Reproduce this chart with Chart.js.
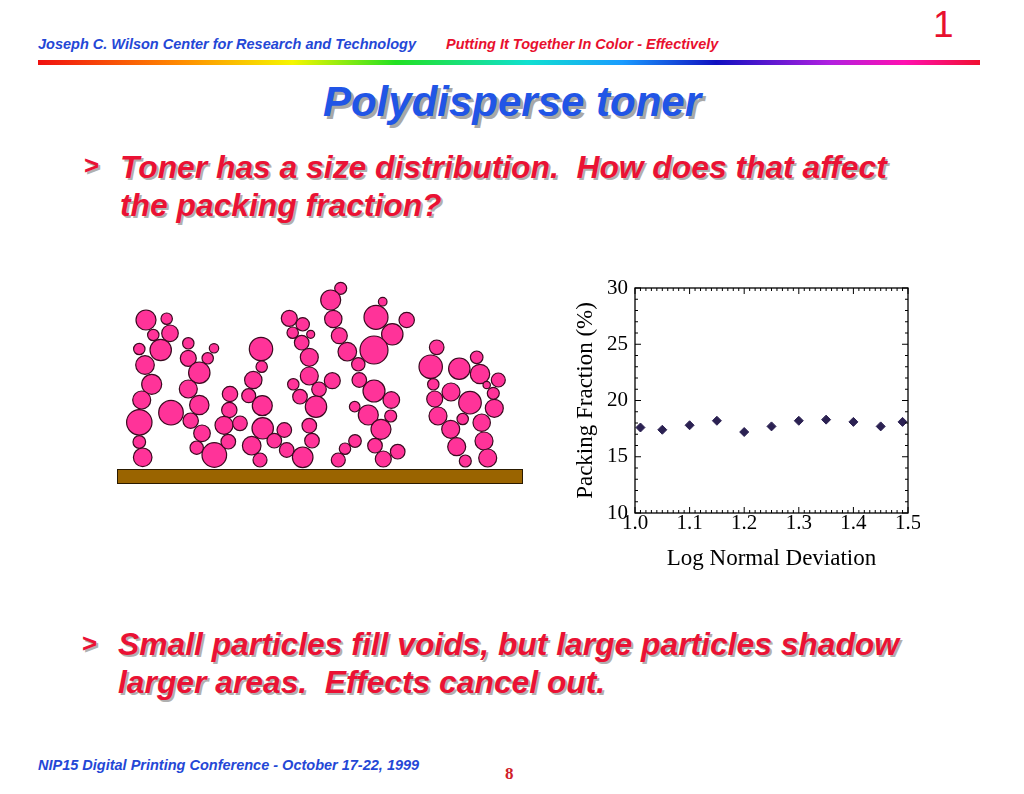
<!DOCTYPE html>
<html>
<head>
<meta charset="utf-8">
<script src="https://cdn.jsdelivr.net/npm/chart.js@4.4.1/dist/chart.umd.min.js"></script>
<style>
  html, body { margin: 0; padding: 0; background: #fff; }
  #slide { position: relative; width: 1024px; height: 794px; overflow: hidden; font-family: "Liberation Sans", Arial, sans-serif; }
  .abs { position: absolute; white-space: pre; }
  .hdr { font-size: 14.5px; font-weight: bold; font-style: italic; }
  .blue { color: #2447d6; }
  .red { color: #e8102e; }
  #rainbow { position: absolute; left: 38px; top: 60px; width: 942px; height: 5px;
    background: linear-gradient(to right, #f01010, #ff8a00 15%, #f6f600 27%, #22e022 38%, #10e0d0 52%, #1a9cff 62%, #1010c0 72%, #b020e0 84%, #ff10b0 92%, #f01030); }
  #title { left: 0; width: 1024px; top: 78px; text-align: center; font-size: 42px; font-weight: bold; font-style: italic; color: #2155e6; text-shadow: 3px 3px 0 #a8a8a8; }
  .bullet { font-size: 31.8px; line-height: 38px; font-weight: bold; font-style: italic; color: #ea1234; text-shadow: 2px 2px 0 #b0b0b0; }
  .arrow { font-size: 26px; font-weight: bold; color: #ea1234; text-shadow: 2px 2px 0 #b0b0b0; }
  #substrate { position: absolute; left: 117px; top: 469px; width: 404px; height: 13px; background: #9a6400; border: 1px solid #2a1a00; }
  #particles { position: absolute; left: 100px; top: 270px; width: 440px; height: 220px; }
  #plot { position: absolute; left: 560px; top: 278px; width: 360px; height: 300px; }
</style>
</head>
<body>
<div id="slide">
  <div class="abs hdr blue" style="left:38px; top:36px;">Joseph C. Wilson Center for Research and Technology</div>
  <div class="abs hdr red" style="left:446px; top:36px;">Putting It Together In Color - Effectively</div>
  <div class="abs red" style="left:933px; top:4px; font-size:37px;">1</div>
  <div id="rainbow"></div>

  <div id="title" class="abs">Polydisperse toner</div>

  <div class="abs arrow" style="left:84px; top:150px;">&gt;</div>
  <div class="abs bullet" style="left:120px; top:148px;">Toner has a size distribution.  How does that affect
the packing fraction?</div>

  <div id="substrate"></div>
  <div id="particles"><canvas id="particleChart"></canvas></div>
  <div id="plot"><canvas id="packingChart"></canvas></div>

  <div class="abs arrow" style="left:82px; top:628px;">&gt;</div>
  <div class="abs bullet" style="left:118px; top:625px;">Small particles fill voids, but large particles shadow
larger areas.  Effects cancel out.</div>

  <div class="abs hdr blue" style="left:38px; top:757px;">NIP15 Digital Printing Conference - October 17-22, 1999</div>
  <div class="abs red" style="left:505px; top:764px; font-family:'Liberation Serif', serif; font-weight:bold; font-size:17px; color:#d0202a;">8</div>
</div>

<script>
// packing fraction vs log normal deviation
const deviation = [1.01, 1.05, 1.10, 1.15, 1.20, 1.25, 1.30, 1.35, 1.40, 1.45, 1.49];
const packing = [17.6, 17.4, 17.8, 18.2, 17.2, 17.7, 18.2, 18.3, 18.1, 17.7, 18.1];
const xTickLabels = ['1.0', '1.1', '1.2', '1.3', '1.4', '1.5'];
const yTickLabels = ['10', '15', '20', '25', '30'];

// toner particles sketch (x, y, radius)
const particleX = [
    46, 66.7, 70, 53.3, 39.3, 60.7, 45, 51.7, 41.7, 39.3, 39.3, 42.7,
    88.3, 114, 88.3, 107.7, 99.3, 88.3, 71, 99.3, 90.7, 102, 96.7, 114.3, 130, 129.3, 124, 140, 128.3,
    161, 161.7, 153.3, 148.7, 162.3, 162.7, 151.7, 160, 174.3, 184.3, 186.7, 202.7,
    189.3, 202.7, 192.7, 210.7, 201.7, 209.3, 209.3, 232.3, 193.3, 200, 219, 216, 209.3, 212,
    240.7, 230.7, 233.3, 239.3, 247.3, 258.3, 259.3, 274, 291.3, 290.7, 268.3, 254.7, 281, 275, 283.3, 297.7, 255, 245, 238.3,
    282.7, 276, 306.7, 292.3, 274,
    336.7, 330.7, 333.3, 334.7, 351, 338, 350.7, 356.7, 365.3, 359.3, 376.7, 380, 398.3, 386.7, 393.3, 370, 394.3, 362.7, 381.7, 384, 387.7
];
const particleY = [
    50, 48.7, 63.3, 65, 79, 80, 95, 114.3, 130, 152.3, 172, 187.3,
    73.3, 78.3, 88.3, 88.3, 102.7, 119, 142.7, 135, 150.7, 163.3, 177.7, 185, 124, 140, 155.3, 153.3, 171.7,
    79, 96.7, 110, 125.7, 135.7, 158.3, 175.7, 190, 170.7, 160, 180, 187.3,
    48.3, 54.3, 62.7, 64.3, 72.7, 87.3, 106, 110.7, 114.3, 126.7, 119.3, 136.7, 155.7, 170.7,
    18.3, 30, 49, 65.7, 81.7, 94.3, 110, 121, 130, 146, 145, 136.7, 159.3, 175.7, 189, 181.7, 171, 178.7, 190,
    31.7, 47.3, 50, 64.3, 80,
    77.3, 96.7, 114.3, 129, 122, 146, 159.3, 176.7, 191, 98.7, 87.3, 104, 110, 115, 123.3, 132.7, 138.3, 149, 152.7, 171, 188
];
const particleR = [
    10, 5.7, 8.3, 5.7, 5.7, 10.7, 9.3, 10, 9, 12.7, 6.3, 9.3,
    5.7, 4.7, 8, 5.7, 10.7, 9, 12.3, 9.7, 7.7, 8.3, 6.7, 12.3, 7.7, 7.7, 9, 7.3, 7.3,
    11.7, 5.7, 8.7, 7, 10, 10.7, 9.3, 7, 7.3, 7.3, 7.3, 10.3,
    8, 6.7, 5.7, 4, 7.3, 9, 9, 8, 5.7, 7.3, 7.3, 10.7, 7.3, 7.3,
    6, 10, 8.7, 8, 9.3, 6.7, 7.3, 11, 8.3, 6, 10, 5.3, 10, 7.3, 8, 7.3, 6.3, 5.7, 7,
    4.3, 12, 7.7, 10.7, 14,
    7.3, 11.7, 5.7, 8, 9, 9, 9, 9, 6, 10.7, 6.3, 9.7, 7, 3.7, 6, 11.3, 9, 5.7, 8.7, 9, 9
];

new Chart(document.getElementById('particleChart'), {
    type: 'bubble',
    data: {
        datasets: [{
            data: particleX.map((x, i) => ({ x: x, y: particleY[i], r: particleR[i] })),
            backgroundColor: '#ff3399',
            borderColor: '#3a0a20',
            borderWidth: 1.2,
            clip: false
        }]
    },
    options: {
        responsive: true,
        maintainAspectRatio: false,
        animation: false,
        layout: { padding: 0, autoPadding: false },
        plugins: { legend: { display: false }, tooltip: { enabled: false } },
        scales: {
            x: { type: 'linear', min: 0, max: 440, display: false },
            y: { type: 'linear', min: 0, max: 220, reverse: true, display: false }
        }
    }
});

// frame with inward ticks on all four sides
const frameTicks = {
    id: 'frameTicks',
    afterDraw(chart) {
        const { ctx, chartArea: a, scales } = chart;
        ctx.save();
        ctx.strokeStyle = '#000';
        ctx.lineWidth = 1.3;
        ctx.strokeRect(a.left, a.top, a.right - a.left, a.bottom - a.top);
        ctx.lineWidth = 1;
        ctx.beginPath();
        for (let i = 0; i <= 50; i++) {
            const px = scales.x.getPixelForValue(1 + i / 100);
            const len = i % 10 === 0 ? 6 : 3;
            ctx.moveTo(px, a.bottom); ctx.lineTo(px, a.bottom - len);
            ctx.moveTo(px, a.top); ctx.lineTo(px, a.top + len);
        }
        for (let v = 10; v <= 30; v++) {
            const py = scales.y.getPixelForValue(v);
            const len = v % 5 === 0 ? 6 : 3;
            ctx.moveTo(a.left, py); ctx.lineTo(a.left + len, py);
            ctx.moveTo(a.right, py); ctx.lineTo(a.right - len, py);
        }
        ctx.stroke();
        ctx.restore();
    }
};

const serif = "'Liberation Serif', 'Times New Roman', serif";

new Chart(document.getElementById('packingChart'), {
    type: 'scatter',
    data: {
        datasets: [{
            data: deviation.map((d, i) => ({ x: d, y: packing[i] })),
            pointStyle: 'rectRot',
            pointRadius: 4.5,
            backgroundColor: '#2b2152',
            borderColor: '#2b2152',
            borderWidth: 1,
            clip: false
        }]
    },
    options: {
        responsive: true,
        maintainAspectRatio: false,
        animation: false,
        layout: { padding: { top: 10, right: 12, left: 0, bottom: 0 }, autoPadding: false },
        plugins: { legend: { display: false }, tooltip: { enabled: false } },
        scales: {
            x: {
                type: 'linear',
                min: 1.0,
                max: 1.5,
                afterFit: s => { s.height = 65; s.paddingLeft = 0; s.paddingRight = 0; },
                grid: { display: false, drawTicks: false },
                border: { display: false },
                ticks: {
                    stepSize: 0.1,
                    padding: -2,
                    color: '#000',
                    font: { family: serif, size: 21 },
                    maxRotation: 0,
                    callback: (v, i) => xTickLabels[i]
                },
                title: {
                    display: true,
                    text: 'Log Normal Deviation',
                    color: '#000',
                    font: { family: serif, size: 23 },
                    padding: { top: 0, bottom: 5 }
                }
            },
            y: {
                type: 'linear',
                min: 10,
                max: 30,
                afterFit: s => { s.width = 75; s.paddingTop = 0; s.paddingBottom = 0; },
                grid: { display: false, drawTicks: false },
                border: { display: false },
                ticks: {
                    stepSize: 5,
                    padding: 7,
                    color: '#000',
                    font: { family: serif, size: 21 },
                    callback: (v, i) => yTickLabels[i]
                },
                title: {
                    display: true,
                    text: 'Packing Fraction (%)',
                    color: '#000',
                    font: { family: serif, size: 23 },
                    padding: { top: 12, bottom: 0 }
                }
            }
        }
    },
    plugins: [frameTicks]
});
</script>
</body>
</html>
